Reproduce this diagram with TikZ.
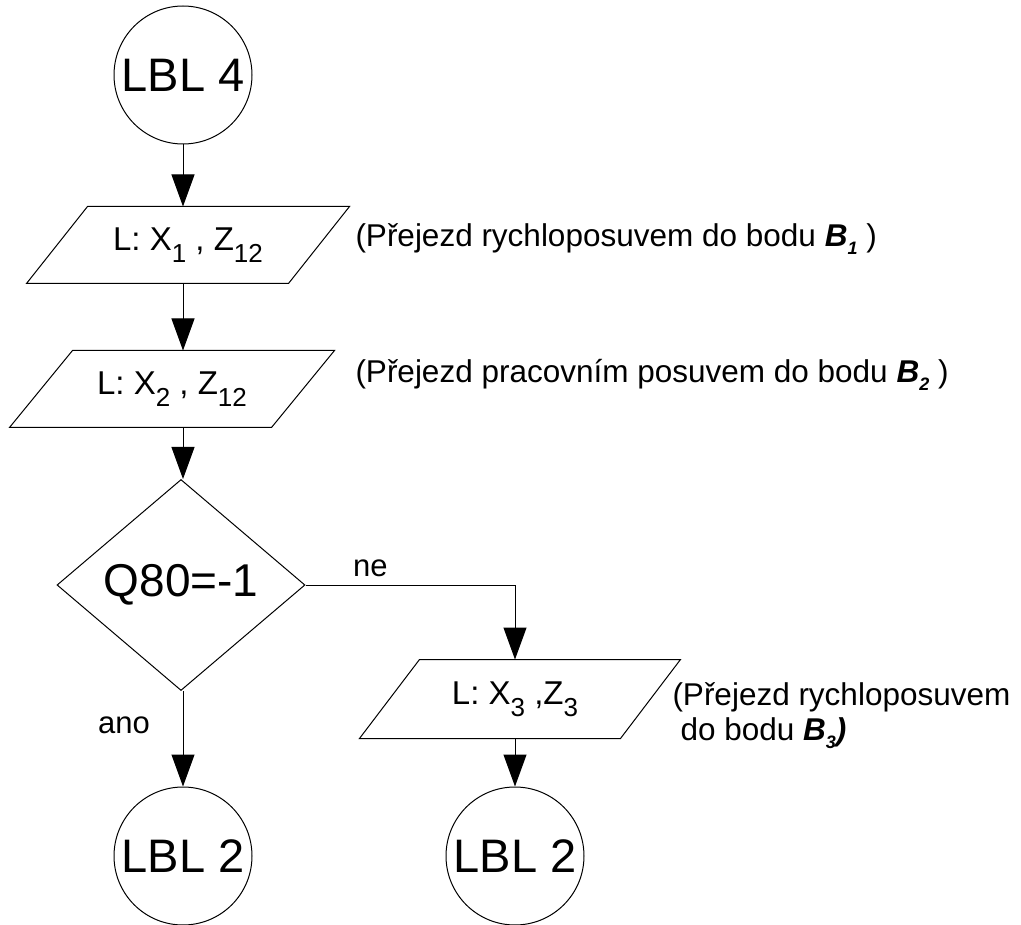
\documentclass[tikz,border=0pt]{standalone}
\usepackage{fontspec}
\setmainfont{Liberation Sans}
\usetikzlibrary{shapes.geometric,arrows.meta}
% subscripts inside the boxes and in the side notes
\newcommand{\psub}[1]{\raisebox{-12pt}{\fontsize{26}{26}\selectfont #1}}
\newcommand{\bsub}[1]{\raisebox{-8pt}{\fontsize{18}{18}\selectfont\bfseries\itshape #1}}
\newcommand{\pt}[1]{\textbf{\textit{#1}}}
% outline of a slanted input/output block around a rectangular node
\newcommand{\slantbox}[2]{%
  \draw ([xshift=#2pt]#1.north west) -- (#1.north east)
    -- ([xshift=-#2pt]#1.south east) -- (#1.south west) -- cycle;}
\begin{document}
\begin{tikzpicture}[x=1pt,y=-1pt,line width=1pt,
  conn/.style={-{Triangle[length=32pt,width=23pt]}},
  lbl/.style={circle,draw,minimum size=138pt,inner sep=0pt,
    font=\fontsize{47}{50}\selectfont},
  io/.style={rectangle,inner sep=0pt,font=\fontsize{33}{38}\selectfont},
  note/.style={anchor=base west,inner sep=0pt,align=left,
    font=\fontsize{31.5}{35}\selectfont},
  tag/.style={inner sep=0pt,font=\fontsize{31}{36}\selectfont}]
\useasboundingbox (0,0) rectangle (1021,925);

% terminals
\node[lbl] (lbl4) at (183,75) {LBL 4};
\node[lbl] (lbl2a) at (183,856) {LBL 2};
\node[lbl] (lbl2b) at (515,856) {LBL 2};

% input/output blocks
\node[io,minimum width=322pt,minimum height=76pt] (p1) at (188,245)
  {L: X\psub{1} , Z\psub{12}};
\slantbox{p1}{61}
\node[io,minimum width=324pt,minimum height=76pt] (p2) at (172,389)
  {L: X\psub{2} , Z\psub{12}};
\slantbox{p2}{63}
\node[io,minimum width=320pt,minimum height=78pt] (p3) at (520,699)
  {L: X\psub{3} ,Z\psub{3}\hspace*{10pt}};
\slantbox{p3}{60}

% decision
\node[diamond,draw,aspect=1.18,minimum width=248pt,minimum height=211pt,
  inner sep=0pt,font=\fontsize{46}{50}\selectfont] (dec) at (181,585) {Q80=-1};

% side notes
\node[note] (n1) at (355,247)
  {(Přejezd rychloposuvem do bodu \pt{B}\bsub{1} )};
\node[note] (n2) at (355,383)
  {(Přejezd pracovním posuvem do bodu \pt{B}\bsub{2} )};
\node[note] (n3) at (672,740)
  {(Přejezd rychloposuvem\\\hspace*{8pt}do bodu \pt{B}\bsub{3}\pt{)}};

% connectors
\draw[conn] (lbl4) -- (lbl4 |- p1.north);
\draw[conn] (p1.south -| lbl4) -- (lbl4 |- p2.north);
\draw[conn] (p2.south -| lbl4) -- (lbl4 |- dec.north);
\draw[conn] (dec.east) -| node[tag,pos=0.155,above=8pt] (ne) {ne} (lbl2b |- p3.north);
\draw[conn] (p3.south -| lbl2b) -- (lbl2b);
\draw[conn] (lbl4 |- dec.south) -- (lbl2a);
\node[tag,anchor=base] (ano) at (124,733) {ano};
\end{tikzpicture}
\end{document}
